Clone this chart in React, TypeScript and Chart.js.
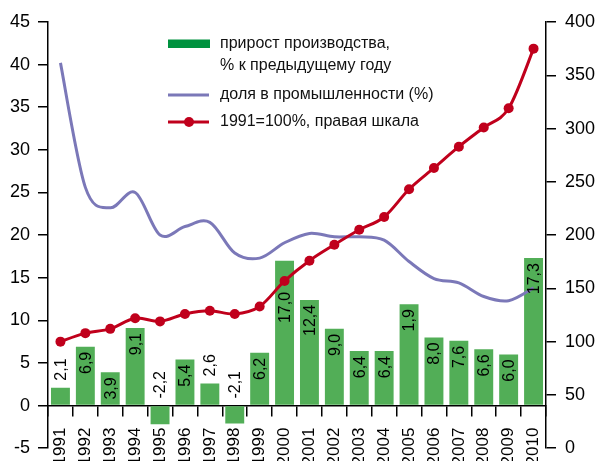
import React, { useEffect, useRef } from "react";
import { Chart, registerables } from "chart.js";

Chart.register(...registerables);

const years = ["1991", "1992", "1993", "1994", "1995", "1996", "1997", "1998", "1999", "2000",
  "2001", "2002", "2003", "2004", "2005", "2006", "2007", "2008", "2009", "2010"];
const growth = [2.1, 6.9, 3.9, 9.1, -2.2, 5.4, 2.6, -2.1, 6.2, 17.0, 12.4, 9.0, 6.4, 6.4, 11.9, 8.0, 7.6, 6.6, 6.0, 17.3];
const growthLabels = ["2,1", "6,9", "3,9", "9,1", "-2,2", "5,4", "2,6", "-2,1", "6,2", "17,0",
  "12,4", "9,0", "6,4", "6,4", "1,9", "8,0", "7,6", "6,6", "6,0", "17,3"];
const share = [40.2, 25.6, 23.2, 25, 20, 21, 21.5, 17.9, 17.3, 19.1, 20.2, 19.8, 19.8, 19.4, 16.9, 14.9, 14.4, 12.8, 12.3, 13.8];
const index1991 = [100, 108, 112, 122, 119, 126, 129, 126, 133, 157, 176, 191, 205, 217, 243, 263, 283, 301, 319, 375];
const leftMin = -5, leftMax = 45, leftStep = 5;
const rightMin = 0, rightMax = 400, rightStep = 50;
const legendGrowth = ["прирост производства,", "% к предыдущему году"];
const legendShare = "доля в промышленности (%)";
const legendIndex = "1991=100%, правая шкала";

const FONT = '"Liberation Sans", Arial, sans-serif';
const GREEN_BAR = "#52ae57";
const GREEN_LEG = "#00923f";
const PURPLE = "#7b78b8";
const RED = "#c0001c";

// Excel-like smoothing (uniform Catmull-Rom) applied to the line's own points
const smoothPlugin = {
  id: "excelSmooth",
  beforeDatasetDraw(chart: any, args: any) {
    const meta = args.meta;
    if (meta.type !== "line") return;
    const line = meta.dataset;
    if (!line) return;
    line.updateControlPoints(chart.chartArea, "x");
    const pts = meta.data;
    const n = pts.length;
    for (let i = 0; i < n; i++) {
      const p = pts[i];
      const prev = pts[Math.max(i - 1, 0)];
      const next = pts[Math.min(i + 1, n - 1)];
      const tx = (next.x - prev.x) / 6;
      const ty = (next.y - prev.y) / 6;
      p.cp1x = p.x - tx;
      p.cp1y = p.y - ty;
      p.cp2x = p.x + tx;
      p.cp2y = p.y + ty;
    }
  },
};

const barLabelPlugin = {
  id: "barLabels",
  afterDatasetsDraw(chart: any) {
    const ctx = chart.ctx;
    const yScale = chart.scales.y;
    const bars = chart.getDatasetMeta(0).data;
    const reds = chart.getDatasetMeta(2).data;
    ctx.save();
    ctx.font = `16px ${FONT}`;
    ctx.fillStyle = "#000";
    ctx.textBaseline = "middle";
    bars.forEach((bar: any, i: number) => {
      const v = growth[i];
      const text = growthLabels[i];
      const w = ctx.measureText(text).width;
      ctx.save();
      if (v < 3) {
        const base = yScale.getPixelForValue(Math.max(v, 0));
        ctx.translate(bar.x, base - 7);
        ctx.rotate(-Math.PI / 2);
        ctx.textAlign = "left";
        ctx.fillText(text, 0, 1);
      } else {
        let top = yScale.getPixelForValue(v) + 5;
        const ry = reds[i] ? reds[i].y : -1000;
        if (ry + 6 > top && ry - 6 < top + w) top = ry + 11;
        ctx.translate(bar.x, top);
        ctx.rotate(-Math.PI / 2);
        ctx.textAlign = "right";
        ctx.fillText(text, 0, 1);
      }
      ctx.restore();
    });
    ctx.restore();
  },
};

const legendPlugin = {
  id: "customLegend",
  afterDraw(chart: any) {
    const ctx = chart.ctx;
    ctx.save();
    ctx.font = `16px ${FONT}`;
    ctx.textBaseline = "middle";
    ctx.textAlign = "left";
    ctx.fillStyle = GREEN_LEG;
    ctx.fillRect(168, 39.5, 42, 8.5);
    ctx.fillStyle = "#111";
    ctx.fillText(legendGrowth[0], 220, 44);
    ctx.fillText(legendGrowth[1], 220, 66);
    ctx.strokeStyle = PURPLE;
    ctx.lineWidth = 3;
    ctx.beginPath();
    ctx.moveTo(168, 95);
    ctx.lineTo(209, 95);
    ctx.stroke();
    ctx.fillText(legendShare, 220, 95);
    ctx.strokeStyle = RED;
    ctx.beginPath();
    ctx.moveTo(168, 122);
    ctx.lineTo(209, 122);
    ctx.stroke();
    ctx.fillStyle = RED;
    ctx.beginPath();
    ctx.arc(189, 122, 5, 0, Math.PI * 2);
    ctx.fill();
    ctx.fillStyle = "#111";
    ctx.fillText(legendIndex, 220, 122);
    ctx.restore();
  },
};

export default function App() {
  const ref = useRef<HTMLCanvasElement | null>(null);
  useEffect(() => {
    if (!ref.current) return;
    const tickFont = { family: FONT, size: 18 };
    const chart = new Chart(ref.current, {
      type: "bar",
      data: {
        labels: years,
        datasets: [
          {
            type: "bar",
            label: legendGrowth.join(" "),
            data: growth,
            backgroundColor: GREEN_BAR,
            borderWidth: 0,
            barPercentage: 0.76,
            categoryPercentage: 1,
            yAxisID: "y",
            order: 3,
          } as any,
          {
            type: "line",
            label: legendShare,
            data: share,
            borderColor: PURPLE,
            borderWidth: 3,
            pointRadius: 0,
            tension: 0.4,
            capBezierPoints: false,
            fill: false,
            yAxisID: "y",
            order: 2,
          },
          {
            type: "line",
            label: legendIndex,
            data: index1991,
            borderColor: RED,
            backgroundColor: RED,
            borderWidth: 3,
            pointRadius: 5,
            pointBackgroundColor: RED,
            pointBorderWidth: 0,
            tension: 0.4,
            capBezierPoints: false,
            fill: false,
            yAxisID: "y1",
            order: 1,
          },
        ],
      },
      options: {
        responsive: false,
        animation: false,
        layout: { padding: { top: 22, bottom: 6, left: 0, right: 0 } },
        plugins: { legend: { display: false }, tooltip: { enabled: false } },
        scales: {
          x: {
            type: "category",
            position: { y: 0 } as any,
            offset: true,
            grid: { display: true, drawOnChartArea: false, drawTicks: true, tickLength: 10, color: "#000", lineWidth: 1.5, offset: true },
            border: { display: true, color: "#000", width: 1.5 },
            ticks: { autoSkip: false, maxRotation: 90, minRotation: 90, padding: 12, font: { family: FONT, size: 17 }, color: "#000" },
          },
          y: {
            type: "linear",
            position: "left",
            min: leftMin,
            max: leftMax,
            ticks: { stepSize: leftStep, padding: 8, font: tickFont, color: "#000" },
            grid: { drawOnChartArea: false, drawTicks: true, tickLength: 10, color: "#000", lineWidth: 1.5 },
            border: { display: true, color: "#000", width: 1.5 },
            afterFit: (s: any) => { s.width = 48; },
          },
          y1: {
            type: "linear",
            position: "right",
            min: rightMin,
            max: rightMax,
            ticks: { stepSize: rightStep, padding: 9, font: tickFont, color: "#000" },
            grid: { drawOnChartArea: false, drawTicks: true, tickLength: 10, color: "#000", lineWidth: 1.5 },
            border: { display: true, color: "#000", width: 1.5 },
            afterFit: (s: any) => { s.width = 52; },
          },
        },
      },
      plugins: [smoothPlugin, barLabelPlugin, legendPlugin],
    } as any);
    return () => chart.destroy();
  }, []);
  return (
    <div style={{ position: "absolute", left: 0, top: 0, width: 598, height: 461, overflow: "hidden", background: "#fff" }}>
      <canvas ref={ref} width={598} height={468} style={{ display: "block" }} />
    </div>
  );
}
